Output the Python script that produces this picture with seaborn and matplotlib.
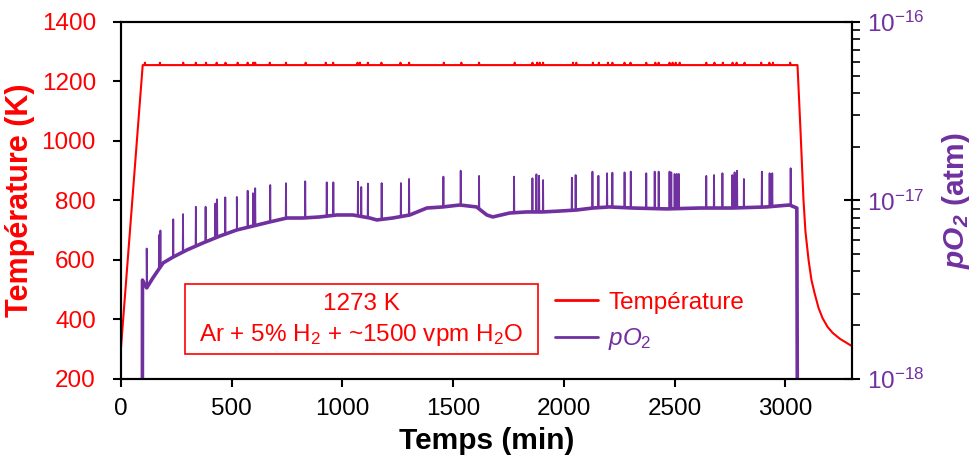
import numpy as np
import pandas as pd
import matplotlib
matplotlib.use("Agg")
import matplotlib.pyplot as plt
import seaborn as sns
from matplotlib.ticker import LogLocator, NullFormatter, FixedLocator
from matplotlib.patches import Rectangle

# ---------------- data ----------------
# Temperature (K) vs time (min): ramp, plateau, cooling
temp_time = [0, 98, 3055, 3069, 3082, 3091, 3105, 3118, 3132, 3150, 3168, 3191, 3214,
             3247, 3278, 3300]
temp_K = [305, 1255, 1255, 1027, 801, 694, 599, 532, 488, 438, 404, 374, 354,
          334, 320, 310]
temp_plateau = 1255
temp_spike_peak = 1263
temp_spike_times = [108, 176, 281, 338, 384, 432, 472, 527, 572, 597, 606, 672, 745,
                    834, 925, 958, 1068, 1079, 1115, 1176, 1262, 1301, 1458, 1537,
                    1617, 1778, 1858, 1879, 1891, 1906, 2041, 2056, 2131, 2158, 2199,
                    2219, 2274, 2301, 2372, 2413, 2428, 2477, 2491, 2505, 2523, 2643,
                    2680, 2718, 2762, 2780, 2816, 2891, 2928, 2944, 3022]

# pO2 baseline (log10 of atm) vs time (min)
po2_time = [96, 97, 116, 144, 190, 235, 298, 370, 447, 523, 596, 672, 749, 821, 898,
            975, 1047, 1124, 1155, 1227, 1304, 1381, 1453, 1530, 1606, 1652, 1679,
            1755, 1832, 1904, 1981, 2058, 2130, 2207, 2310, 2464, 2613, 2762, 2915,
            3019, 3052, 3056]
po2_log10 = [-19.0, -17.447, -17.491, -17.435, -17.351, -17.318, -17.278, -17.239,
             -17.200, -17.166, -17.144, -17.121, -17.099, -17.099, -17.093, -17.082,
             -17.082, -17.099, -17.110, -17.099, -17.082, -17.043, -17.037, -17.026,
             -17.037, -17.082, -17.093, -17.071, -17.065, -17.065, -17.060, -17.054,
             -17.043, -17.037, -17.043, -17.048, -17.043, -17.043, -17.037, -17.026,
             -17.043, -19.0]

# pO2 spikes: time (min) and peak (log10 atm)
po2_spike_times = [116, 172, 178, 236, 280, 338, 382, 426, 434, 471, 523, 572, 596, 606,
                   674, 745, 832, 929, 959, 1070, 1085, 1115, 1177, 1264, 1301, 1456,
                   1534, 1617, 1775, 1858, 1876, 1888, 1906, 2036, 2053, 2129, 2156,
                   2195, 2219, 2274, 2302, 2372, 2410, 2428, 2477, 2485, 2500, 2510,
                   2519, 2643, 2678, 2716, 2761, 2771, 2782, 2813, 2894, 2929, 2941, 3024]
po2_spike_log10 = [-17.270, -17.194, -17.169, -17.106, -17.077, -17.036, -17.036, -17.018,
                   -16.994, -16.983, -16.981, -16.946, -16.960, -16.932, -16.914, -16.904,
                   -16.893, -16.899, -16.899, -16.895, -16.925, -16.906, -16.903, -16.903,
                   -16.880, -16.867, -16.834, -16.863, -16.867, -16.876, -16.854, -16.862,
                   -16.886, -16.873, -16.858, -16.839, -16.862, -16.848, -16.845, -16.843,
                   -16.839, -16.848, -16.839, -16.839, -16.839, -16.843, -16.852, -16.852,
                   -16.852, -16.863, -16.858, -16.848, -16.858, -16.843, -16.834, -16.880,
                   -16.839, -16.848, -16.848, -16.820]

x_ticks = [0, 500, 1000, 1500, 2000, 2500, 3000]
temp_ticks = [200, 400, 600, 800, 1000, 1200, 1400]
box_lines = ["1273 K", "Ar + 5% H$_2$ + ~1500 vpm H$_2$O"]
legend_labels = ["Température", r"$\mathit{pO}_{\mathit{2}}$"]

RED = "#FF0000"
PURPLE = "#7030A0"
SPIKE_HALF = 1.2  # half width of a one-sample spike (min)


def add_spikes(base_t, base_v, sp_t, sp_v, foot_t, foot_v):
    pts = [(t, v) for t, v in zip(base_t, base_v)]
    for t, v in zip(sp_t, sp_v):
        f = float(np.interp(t, foot_t, foot_v))
        pts += [(t - SPIKE_HALF, f), (t, v), (t + SPIKE_HALF, f)]
    pts.sort(key=lambda p: p[0])
    return [p[0] for p in pts], [p[1] for p in pts]


# temperature with spikes on the plateau
tt, tv = add_spikes(temp_time, temp_K, temp_spike_times,
                    [temp_spike_peak] * len(temp_spike_times),
                    [temp_time[1], temp_time[2]], [temp_plateau, temp_plateau])
df_temp = pd.DataFrame({"t": tt, "T": tv})

# pO2 with spikes
pt, pv = add_spikes(po2_time, po2_log10, po2_spike_times, po2_spike_log10,
                    po2_time[1:-1], po2_log10[1:-1])
df_po2 = pd.DataFrame({"t": pt, "p": 10.0 ** np.array(pv)})
df_po2_base = pd.DataFrame({"t": po2_time, "p": 10.0 ** np.array(po2_log10)})

# ---------------- style ----------------
sns.set_theme(style="ticks")
plt.rcParams["font.family"] = ["Liberation Sans", "DejaVu Sans"]
plt.rcParams["mathtext.fontset"] = "custom"
plt.rcParams["mathtext.rm"] = "Liberation Sans"
plt.rcParams["mathtext.it"] = "Liberation Sans:italic"
plt.rcParams["mathtext.bf"] = "Liberation Sans:bold"
plt.rcParams["mathtext.bfit"] = "Liberation Sans:italic:bold"
plt.rcParams["axes.unicode_minus"] = False

fig = plt.figure(figsize=(9.75, 4.61), dpi=100)
ax = fig.add_axes([0.1241, 0.1785, 0.7495, 0.7738])
ax2 = ax.twinx()

sns.lineplot(data=df_temp, x="t", y="T", ax=ax, color=RED, lw=1.5,
             sort=False, estimator=None, legend=False)
sns.lineplot(data=df_po2_base, x="t", y="p", ax=ax2, color=PURPLE, lw=2.6,
             sort=False, estimator=None, legend=False)
sns.lineplot(data=df_po2, x="t", y="p", ax=ax2, color=PURPLE, lw=1.3,
             sort=False, estimator=None, legend=False)

ax.set_xlim(0, 3300)
ax.set_ylim(200, 1400)
ax.set_xticks(x_ticks)
ax.set_yticks(temp_ticks)
ax2.set_yscale("log")
ax2.set_ylim(1e-18, 1e-16)
ax2.yaxis.set_major_locator(FixedLocator([1e-18, 1e-17, 1e-16]))
ax2.yaxis.set_minor_locator(LogLocator(base=10, subs=np.arange(2, 10)))
ax2.yaxis.set_minor_formatter(NullFormatter())

for a in (ax, ax2):
    for s in a.spines.values():
        s.set_visible(True)
        s.set_color("black")
        s.set_linewidth(1.5)

ax.tick_params(axis="x", direction="out", length=6, width=1.5, colors="black",
               labelsize=17.5, pad=8)
ax.tick_params(axis="y", direction="out", length=6, width=1.5, color="black",
               labelcolor=RED, labelsize=17.5, pad=12)
ax2.tick_params(axis="y", which="major", direction="inout", length=12, width=1.5,
                color="black", labelcolor=PURPLE, labelsize=17.5, pad=5)
ax2.tick_params(axis="y", which="minor", direction="out", length=6, width=1.2,
                color="black")

ax.set_xlabel("Temps (min)", fontsize=21.5, fontweight="bold", color="black")
ax.set_ylabel("Température (K)", fontsize=22, fontweight="bold", color=RED)
ax2.set_ylabel(r"$\mathbfit{pO}_{\mathbfit{2}}$ (atm)", fontsize=21.5,
               fontweight="bold", color=PURPLE)
ax.xaxis.set_label_coords(0.5, -0.135)
ax.yaxis.set_label_coords(-0.118, 0.5)
ax2.yaxis.set_label_coords(1.121, 0.5)

# condition box
ax.add_patch(Rectangle((0.0876, 0.0692), 0.4831, 0.1963, transform=ax.transAxes,
                       facecolor="white", edgecolor=RED, lw=1.2, zorder=5))
ax.text(0.329, 0.2094, box_lines[0], transform=ax.transAxes, ha="center",
        va="center", fontsize=17.5, color=RED, zorder=6)
ax.text(0.329, 0.1225, box_lines[1], transform=ax.transAxes, ha="center",
        va="center", fontsize=17.5, color=RED, zorder=6)

# legend
h_temp = ax.get_lines()[0]
h_po2 = ax2.get_lines()[1]
leg = ax2.legend([h_temp, h_po2], legend_labels, loc="center left",
                 bbox_to_anchor=(0.594, 0.159), frameon=False, fontsize=17.5,
                 borderpad=0, borderaxespad=0, handlelength=1.77,
                 handletextpad=0.41, labelspacing=0.52)
leg.get_texts()[0].set_color(RED)
leg.get_texts()[1].set_color(PURPLE)
for l in leg.get_lines():
    l.set_linewidth(2)

fig.savefig("out.png", dpi=100)
